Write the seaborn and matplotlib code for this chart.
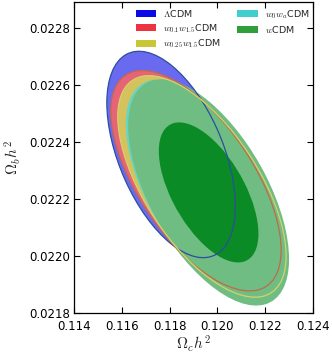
import numpy as np
import pandas as pd
import seaborn as sns
import matplotlib
matplotlib.use("Agg")
import matplotlib.pyplot as plt
from matplotlib.patches import Ellipse, Patch

# ---- data (Gaussian approximations of the posteriors) ----
models = [r"$\Lambda$CDM", r"$w_{0.1}w_{1.5}$CDM", r"$w_{0.25}w_{1.5}$CDM",
          r"$w_0w_a$CDM", r"$w$CDM"]
mean_omc = [0.11806, 0.11910, 0.11935, 0.11954, 0.11963]
mean_omb = [0.022356, 0.022264, 0.022244, 0.022227, 0.022223]
sigma_omc = [0.001098, 0.001456, 0.001439, 0.001379, 0.001375]
sigma_omb = [0.0001478, 0.0001578, 0.0001586, 0.0001600, 0.0001620]
corr = [-0.50, -0.63, -0.63, -0.60, -0.59]

legend_colors = ["#0a0ae6", "#ee3340", "#c9c637", "#3fcfcf", "#2f9f3c"]
fill_colors = ["#6a6af0", "#e66476", "#d3c25e", "#66d5c4", "#6fbd82"]
edge_colors = ["#2a4f9c", "#c06a4a", "#d6d26a", "#4cc0b0", "#6ab87c"]
inner_color = "#0b8b26"

x_ticks = [0.114, 0.116, 0.118, 0.120, 0.122, 0.124]
y_ticks = [0.0218, 0.0220, 0.0222, 0.0224, 0.0226, 0.0228]

params = pd.DataFrame({"model": models, "mx": mean_omc, "my": mean_omb,
                       "sx": sigma_omc, "sy": sigma_omb, "rho": corr})

sns.set_theme(style="ticks")
plt.rcParams["font.family"] = ["DejaVu Sans"]
plt.rcParams["mathtext.fontset"] = "cm"

fig = plt.figure(figsize=(3.32, 3.53), dpi=100)
ax = fig.add_axes([0.223, 0.113, 0.720, 0.881])

DCHI2_95 = 5.991
DCHI2_68 = 2.296


def make_ellipse(row, dchi2, **kw):
    cov = np.array([[row.sx ** 2, row.rho * row.sx * row.sy],
                    [row.rho * row.sx * row.sy, row.sy ** 2]])
    vals, vecs = np.linalg.eigh(cov)
    order = vals.argsort()[::-1]
    vals, vecs = vals[order], vecs[:, order]
    angle = np.degrees(np.arctan2(vecs[1, 0], vecs[0, 0]))
    w, h = 2 * np.sqrt(dchi2 * vals)
    return Ellipse((row.mx, row.my), w, h, angle=angle, **kw)


# 95% filled regions
for i, row in params.iterrows():
    ax.add_patch(make_ellipse(row, DCHI2_95, facecolor=fill_colors[i],
                              edgecolor="none", zorder=1 + i))
# 68% region of wCDM
ax.add_patch(make_ellipse(params.iloc[4], DCHI2_68, facecolor=inner_color,
                          edgecolor="none", zorder=7))
# contour outlines on top
for i, row in params.iterrows():
    if i in (0, 1, 2):
        ax.add_patch(make_ellipse(row, DCHI2_95, facecolor="none",
                                  edgecolor=edge_colors[i], lw=0.9, zorder=8))

ax.set_xlim(0.114, 0.124)
ax.set_ylim(0.0218, 0.02289)
ax.set_xticks(x_ticks)
ax.set_yticks(y_ticks)
ax.set_xticklabels([f"{v:.3f}" for v in x_ticks])
ax.set_yticklabels([f"{v:.4f}" for v in y_ticks])
ax.tick_params(direction="in", length=4, width=0.8, top=True, right=True,
               labelsize=8.5, colors="black", pad=3)
ax.tick_params(axis="x", pad=5)
for s in ax.spines.values():
    s.set_color("black")
    s.set_linewidth(0.9)
ax.set_xlabel(r"$\Omega_c h^2$", fontsize=11, labelpad=0)
ax.set_ylabel(r"$\Omega_b h^2$", fontsize=11, labelpad=4)

handles = [Patch(facecolor=c, edgecolor="none") for c in legend_colors]
ax.legend(handles, models, ncol=2, loc="upper right", frameon=False,
          fontsize=6.8, handlelength=2.2, handleheight=0.75, handletextpad=0.7,
          columnspacing=1.7, labelspacing=0.3, borderaxespad=0.0,
          bbox_to_anchor=(1.0, 0.993))

fig.savefig("out.png", dpi=100)
